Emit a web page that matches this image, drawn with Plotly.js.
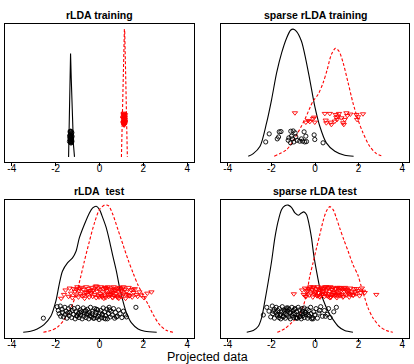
<!DOCTYPE html>
<html>
<head>
<meta charset="utf-8">
<script src="https://cdn.plot.ly/plotly-3.0.1.min.js"></script>
<style>
  html, body { margin: 0; padding: 0; background: #fff; }
  #chart { width: 414px; height: 364px; }
</style>
</head>
<body>
<div id="chart"></div>
<script>
// Panel titles and shared x ticks
const panelTitles = ["rLDA training", "sparse rLDA training", "rLDA\u00a0 test", "sparse rLDA test"];
const xTickVals = [-4, -2, 0, 2, 4];
const xTickLabels = ["-4", "-2", "0", "2", "4"];
const xAxisTitle = "Projected data";

// ---- rLDA training ----
const p1BlackCurveX = [-1.41, -1.385, -1.36, -1.335, -1.32, -1.29, -1.24, -1.19, -1.14];
const p1BlackCurveY = [0, 0.30, 0.60, 0.80, 0.81, 0.62, 0.33, 0.10, 0];
const p1RedCurveX = [1.00, 1.04, 1.08, 1.12, 1.135, 1.15, 1.19, 1.23, 1.27];
const p1RedCurveY = [0, 0.33, 0.67, 0.99, 1.0, 0.99, 0.67, 0.33, 0];
const p1BlackPtsX = [-1.31, -1.28, -1.35, -1.30, -1.26, -1.33, -1.29, -1.36, -1.27, -1.32, -1.30, -1.25, -1.34, -1.29, -1.31, -1.37, -1.28, -1.33, -1.30, -1.26, -1.32, -1.29, -1.35, -1.31, -1.27, -1.30, -1.33];
const p1BlackPtsY = [0.20, 0.18, 0.17, 0.15, 0.19, 0.13, 0.12, 0.16, 0.14, 0.11, 0.18, 0.16, 0.20, 0.13, 0.15, 0.12, 0.11, 0.19, 0.14, 0.12, 0.17, 0.16, 0.14, 0.12, 0.13, 0.20, 0.15];
const p1RedPtsX = [1.12, 1.10, 1.15, 1.13, 1.08, 1.14, 1.11, 1.16, 1.09, 1.13, 1.12, 1.10, 1.17, 1.14, 1.11, 1.13, 1.09, 1.15, 1.12, 1.10, 1.14, 1.12, 1.16, 1.11, 1.13, 1.08, 1.15, 1.12, 1.10, 1.14];
const p1RedPtsY = [0.34, 0.33, 0.32, 0.31, 0.30, 0.29, 0.28, 0.27, 0.26, 0.25, 0.33, 0.30, 0.28, 0.26, 0.32, 0.29, 0.27, 0.31, 0.25, 0.34, 0.30, 0.28, 0.33, 0.27, 0.26, 0.31, 0.29, 0.32, 0.30, 0.27];

// ---- sparse rLDA training ----
const p2BlackCurveX = [-3.06, -2.83, -2.52, -2.22, -1.99, -1.76, -1.53, -1.30, -1.12, -1.00, -0.85, -0.62, -0.42, -0.24, -0.01, 0.22, 0.52, 0.91, 1.36, 1.77];
const p2BlackCurveY = [0.005, 0.026, 0.083, 0.266, 0.449, 0.657, 0.814, 0.931, 0.991, 1.0, 0.983, 0.905, 0.762, 0.605, 0.396, 0.240, 0.110, 0.044, 0.013, 0.005];
const p2RedCurveX = [-1.87, -1.30, -0.92, -0.47, -0.09, 0.14, 0.37, 0.56, 0.75, 0.94, 1.10, 1.29, 1.52, 1.74, 1.97, 2.20, 2.51, 2.81, 3.12];
const p2RedCurveY = [0.005, 0.057, 0.149, 0.292, 0.436, 0.488, 0.579, 0.683, 0.801, 0.850, 0.827, 0.736, 0.579, 0.423, 0.292, 0.188, 0.083, 0.026, 0.005];
const p2BlackPtsX = [-2.10, -2.26, -1.67, -1.64, -1.56, -1.73, -1.11, -1.00, -0.91, -1.08, -1.23, -1.12, -1.03, -0.88, -0.82, -0.70, -0.57, -0.47, -0.39, -0.50, -0.42, -0.04, -0.01, 0.37, -1.20, -0.97, -0.62];
const p2BlackPtsY = [0.180, 0.117, 0.156, 0.196, 0.198, 0.141, 0.201, 0.203, 0.188, 0.162, 0.130, 0.110, 0.141, 0.156, 0.130, 0.123, 0.123, 0.117, 0.120, 0.196, 0.162, 0.172, 0.136, 0.110, 0.149, 0.117, 0.141];
const p2RedPtsX = [-0.92, -0.42, -0.31, -0.24, -0.09, -0.04, -0.01, 0.45, 0.49, 0.52, 0.68, 0.72, 0.75, 0.95, 0.98, 1.01, 1.06, 1.10, 1.29, 1.32, 1.36, 1.44, 1.48, 1.62, 1.90, 1.93, 1.97, 2.20, 0.91, 1.21];
const p2RedPtsY = [0.344, 0.271, 0.284, 0.276, 0.300, 0.310, 0.271, 0.339, 0.287, 0.266, 0.339, 0.271, 0.253, 0.331, 0.310, 0.292, 0.318, 0.339, 0.266, 0.253, 0.292, 0.344, 0.323, 0.334, 0.331, 0.292, 0.313, 0.336, 0.279, 0.305];

// ---- rLDA test ----
const p3BlackCurveX = [-3.48, -3.14, -2.84, -2.53, -2.22, -1.99, -1.84, -1.69, -1.46, -1.23, -1.07, -0.92, -0.69, -0.46, -0.31, -0.15, 0.0, 0.15, 0.31, 0.46, 0.61, 0.77, 0.92, 1.07, 1.23, 1.46, 1.76, 2.07, 2.61];
const p3BlackCurveY = [0.005, 0.013, 0.031, 0.065, 0.130, 0.248, 0.378, 0.483, 0.548, 0.587, 0.639, 0.743, 0.848, 0.939, 0.978, 0.991, 0.965, 0.900, 0.822, 0.717, 0.600, 0.483, 0.352, 0.248, 0.156, 0.078, 0.031, 0.013, 0.005];
const p3RedCurveX = [-2.56, -2.22, -1.92, -1.61, -1.30, -1.07, -0.87, -0.69, -0.46, -0.23, 0.0, 0.23, 0.41, 0.61, 0.84, 1.07, 1.30, 1.53, 1.76, 1.99, 2.22, 2.45, 2.76, 3.07, 3.37];
const p3RedCurveY = [0.005, 0.018, 0.044, 0.104, 0.196, 0.300, 0.430, 0.561, 0.717, 0.861, 0.965, 1.0, 0.995, 0.926, 0.809, 0.691, 0.574, 0.469, 0.373, 0.295, 0.222, 0.143, 0.060, 0.018, 0.005];
const p3BlackPtsX = [-2.56, -1.93, -1.88, -1.84, -1.79, -1.77, -1.71, -1.69, -1.64, -1.58, -1.57, -1.52, -1.49, -1.41, -1.38, -1.35, -1.31, -1.27, -1.24, -1.18, -1.16, -1.11, -1.07, -1.04, -0.99, -0.97, -0.93, -0.88, -0.86, -0.83, -0.79, -0.74, -0.72, -0.69, -0.63, -0.61, -0.58, -0.55, -0.49, -0.46, -0.44, -0.41, -0.36, -0.33, -0.31, -0.27, -0.22, -0.19, -0.17, -0.12, -0.09, -0.05, -0.02, 0.03, 0.06, 0.09, 0.13, 0.17, 0.21, 0.24, 0.29, 0.33, 0.36, 0.41, 0.44, 0.49, 0.53, 0.58, 0.64, 0.69, 0.73, 0.81, 0.87, 0.94, 1.02, 1.09, 1.18, 1.23, 1.66, -1.45, -1.02, -0.66, -0.25, 0.11, 0.46, 0.77, -0.52, -0.14, 0.27, -0.90];
const p3BlackPtsY = [0.115, 0.205, 0.175, 0.150, 0.210, 0.130, 0.185, 0.160, 0.125, 0.200, 0.145, 0.170, 0.115, 0.190, 0.135, 0.160, 0.205, 0.120, 0.175, 0.145, 0.190, 0.110, 0.165, 0.135, 0.200, 0.150, 0.120, 0.180, 0.140, 0.165, 0.110, 0.195, 0.130, 0.155, 0.175, 0.120, 0.145, 0.185, 0.110, 0.160, 0.135, 0.200, 0.125, 0.150, 0.170, 0.115, 0.190, 0.140, 0.160, 0.120, 0.180, 0.130, 0.105, 0.155, 0.175, 0.120, 0.145, 0.195, 0.115, 0.165, 0.135, 0.185, 0.110, 0.150, 0.200, 0.125, 0.170, 0.140, 0.190, 0.115, 0.160, 0.130, 0.180, 0.150, 0.120, 0.170, 0.140, 0.125, 0.200, 0.155, 0.130, 0.170, 0.115, 0.140, 0.180, 0.125, 0.150, 0.185, 0.110, 0.160];
const p3RedPtsX = [-1.75, -1.62, -1.55, -1.41, -1.36, -1.30, -1.24, -1.18, -1.12, -1.07, -1.01, -0.96, -0.93, -0.87, -0.82, -0.79, -0.74, -0.68, -0.65, -0.61, -0.55, -0.52, -0.47, -0.43, -0.38, -0.35, -0.31, -0.26, -0.22, -0.18, -0.15, -0.11, -0.07, -0.04, 0.01, 0.04, 0.07, 0.12, 0.15, 0.18, 0.22, 0.25, 0.28, 0.32, 0.35, 0.38, 0.42, 0.45, 0.48, 0.52, 0.55, 0.58, 0.62, 0.65, 0.69, 0.72, 0.76, 0.79, 0.83, 0.86, 0.90, 0.94, 0.98, 1.02, 1.06, 1.11, 1.15, 1.19, 1.24, 1.29, 1.33, 1.38, 1.44, 1.49, 1.55, 1.61, 1.68, 1.74, 1.82, 1.91, 2.03, 2.18, 2.37, -0.90, -0.58, -0.29, 0.09, 0.30, 0.50, 0.67, 0.81, 1.00, 1.21, -0.13, 0.40, 0.60, 0.93, -0.71, -0.40, 0.20, 0.75, 1.08, 1.35, -1.05, -0.02, 0.27, 0.56, 1.52, 0.88, -0.50];
const p3RedPtsY = [0.270, 0.300, 0.335, 0.285, 0.350, 0.310, 0.275, 0.345, 0.325, 0.295, 0.360, 0.280, 0.330, 0.305, 0.355, 0.290, 0.340, 0.270, 0.320, 0.360, 0.300, 0.345, 0.280, 0.330, 0.310, 0.355, 0.285, 0.340, 0.300, 0.365, 0.275, 0.325, 0.350, 0.290, 0.335, 0.305, 0.360, 0.280, 0.320, 0.345, 0.295, 0.355, 0.275, 0.330, 0.310, 0.360, 0.285, 0.340, 0.300, 0.325, 0.350, 0.280, 0.315, 0.360, 0.290, 0.335, 0.305, 0.345, 0.275, 0.320, 0.355, 0.295, 0.330, 0.285, 0.350, 0.310, 0.340, 0.270, 0.325, 0.300, 0.355, 0.290, 0.335, 0.280, 0.315, 0.345, 0.300, 0.285, 0.320, 0.295, 0.275, 0.310, 0.320, 0.345, 0.315, 0.330, 0.290, 0.350, 0.305, 0.340, 0.285, 0.325, 0.300, 0.365, 0.300, 0.275, 0.350, 0.295, 0.315, 0.270, 0.330, 0.360, 0.290, 0.340, 0.280, 0.350, 0.310, 0.340, 0.270, 0.325];

// ---- sparse rLDA test ----
const p4BlackCurveX = [-3.13, -2.83, -2.60, -2.45, -2.30, -2.14, -1.99, -1.84, -1.69, -1.53, -1.38, -1.23, -1.08, -0.92, -0.77, -0.62, -0.51, -0.39, -0.27, -0.16, -0.06, 0.07, 0.22, 0.37, 0.60, 0.83, 1.06, 1.36, 1.74];
const p4BlackCurveY = [0.005, 0.018, 0.052, 0.117, 0.248, 0.404, 0.561, 0.743, 0.874, 0.965, 0.995, 1.0, 0.983, 0.939, 0.921, 0.939, 0.947, 0.926, 0.848, 0.743, 0.613, 0.483, 0.352, 0.261, 0.170, 0.104, 0.052, 0.018, 0.005];
const p4RedCurveX = [-1.73, -1.38, -1.08, -0.77, -0.54, -0.36, -0.24, -0.09, 0.07, 0.22, 0.37, 0.52, 0.68, 0.83, 0.98, 1.13, 1.32, 1.52, 1.74, 1.97, 2.12, 2.28, 2.43, 2.66, 2.96, 3.27, 3.57];
const p4RedCurveY = [0.005, 0.034, 0.078, 0.130, 0.209, 0.326, 0.443, 0.548, 0.665, 0.769, 0.874, 0.952, 0.988, 0.965, 0.900, 0.822, 0.730, 0.639, 0.535, 0.451, 0.365, 0.274, 0.196, 0.117, 0.052, 0.018, 0.005];
const p4BlackPtsX = [-2.37, -2.21, -2.11, -2.03, -1.96, -1.94, -1.87, -1.86, -1.80, -1.78, -1.73, -1.71, -1.65, -1.64, -1.58, -1.57, -1.51, -1.50, -1.44, -1.43, -1.37, -1.36, -1.30, -1.29, -1.25, -1.20, -1.19, -1.13, -1.12, -1.06, -1.05, -0.99, -0.98, -0.92, -0.91, -0.85, -0.84, -0.78, -0.77, -0.71, -0.70, -0.64, -0.63, -0.57, -0.56, -0.50, -0.49, -0.43, -0.42, -0.36, -0.34, -0.28, -0.26, -0.20, -0.18, -0.11, -0.06, -0.01, 0.05, 0.11, 0.18, 0.26, 0.34, 0.43, 0.56, 0.69, 0.86, 0.98, -1.61, -1.32, -1.01, -0.81, -0.59, -0.31, -1.91, -1.46, -1.16, -0.94, -0.69, -0.45, -0.09, 0.21, -1.72, -1.24, -0.88, -0.53, 0.48, -1.40, -0.15, 0.62];
const p4BlackPtsY = [0.140, 0.200, 0.170, 0.125, 0.210, 0.150, 0.185, 0.115, 0.160, 0.200, 0.135, 0.175, 0.120, 0.190, 0.145, 0.110, 0.165, 0.205, 0.130, 0.180, 0.150, 0.115, 0.195, 0.140, 0.170, 0.125, 0.185, 0.110, 0.160, 0.200, 0.135, 0.175, 0.120, 0.150, 0.190, 0.115, 0.165, 0.140, 0.200, 0.125, 0.180, 0.150, 0.110, 0.170, 0.135, 0.195, 0.120, 0.160, 0.145, 0.185, 0.115, 0.175, 0.130, 0.200, 0.150, 0.120, 0.165, 0.140, 0.190, 0.115, 0.155, 0.205, 0.130, 0.175, 0.145, 0.120, 0.165, 0.200, 0.135, 0.180, 0.150, 0.115, 0.190, 0.140, 0.170, 0.125, 0.155, 0.185, 0.130, 0.160, 0.110, 0.175, 0.145, 0.195, 0.120, 0.150, 0.130, 0.170, 0.110, 0.190];
const p4RedPtsX = [-0.97, -0.59, -0.52, -0.46, -0.41, -0.37, -0.31, -0.27, -0.22, -0.19, -0.14, -0.10, -0.06, -0.02, 0.02, 0.05, 0.09, 0.13, 0.16, 0.19, 0.23, 0.26, 0.30, 0.33, 0.36, 0.40, 0.43, 0.46, 0.50, 0.53, 0.56, 0.60, 0.63, 0.66, 0.70, 0.73, 0.76, 0.80, 0.83, 0.86, 0.90, 0.93, 0.97, 1.00, 1.04, 1.07, 1.11, 1.14, 1.18, 1.22, 1.26, 1.30, 1.34, 1.38, 1.42, 1.47, 1.52, 1.57, 1.62, 1.68, 1.74, 1.80, 1.87, 1.95, 2.04, 2.15, 2.28, 2.81, -0.33, -0.08, 0.11, 0.28, 0.45, 0.61, 0.78, 0.95, 1.12, 1.28, 1.46, 1.65, 1.90, 2.10, -0.44, 0.00, 0.38, 0.68, 1.02, 1.33, 1.58, 1.84, 0.21, 0.52, 0.85, 1.20, -0.24, 0.15, 0.88, 1.40, 2.20, 0.35, 0.72, 1.55, -0.12, 0.60, 1.10, 1.76, 0.05, 0.96];
const p4RedPtsY = [0.305, 0.335, 0.300, 0.350, 0.285, 0.320, 0.345, 0.295, 0.360, 0.310, 0.335, 0.280, 0.355, 0.300, 0.325, 0.345, 0.290, 0.360, 0.315, 0.340, 0.280, 0.330, 0.355, 0.300, 0.320, 0.345, 0.285, 0.360, 0.310, 0.335, 0.290, 0.350, 0.305, 0.325, 0.360, 0.280, 0.340, 0.300, 0.355, 0.315, 0.290, 0.345, 0.325, 0.275, 0.355, 0.310, 0.335, 0.290, 0.350, 0.300, 0.340, 0.285, 0.325, 0.355, 0.295, 0.340, 0.310, 0.280, 0.350, 0.320, 0.295, 0.345, 0.305, 0.330, 0.290, 0.350, 0.315, 0.300, 0.330, 0.360, 0.290, 0.345, 0.305, 0.285, 0.340, 0.300, 0.355, 0.280, 0.325, 0.300, 0.345, 0.315, 0.285, 0.310, 0.330, 0.275, 0.290, 0.350, 0.305, 0.320, 0.285, 0.360, 0.300, 0.330, 0.350, 0.290, 0.310, 0.340, 0.325, 0.305, 0.280, 0.330, 0.340, 0.355, 0.300, 0.295, 0.320, 0.345];

const panels = [
  {bc: [p1BlackCurveX, p1BlackCurveY], rc: [p1RedCurveX, p1RedCurveY], bp: [p1BlackPtsX, p1BlackPtsY], rp: [p1RedPtsX, p1RedPtsY], shape: "linear"},
  {bc: [p2BlackCurveX, p2BlackCurveY], rc: [p2RedCurveX, p2RedCurveY], bp: [p2BlackPtsX, p2BlackPtsY], rp: [p2RedPtsX, p2RedPtsY], shape: "spline"},
  {bc: [p3BlackCurveX, p3BlackCurveY], rc: [p3RedCurveX, p3RedCurveY], bp: [p3BlackPtsX, p3BlackPtsY], rp: [p3RedPtsX, p3RedPtsY], shape: "spline"},
  {bc: [p4BlackCurveX, p4BlackCurveY], rc: [p4RedCurveX, p4RedCurveY], bp: [p4BlackPtsX, p4BlackPtsY], rp: [p4RedPtsX, p4RedPtsY], shape: "spline"}
];

// plot-box positions in pixels of a 414 x 364 canvas
const W = 414, H = 364;
const boxes = [
  {l: 5, r: 194, t: 24, b: 162},
  {l: 221, r: 409, t: 24, b: 162},
  {l: 5, r: 194, t: 200, b: 338},
  {l: 221, r: 409, t: 200, b: 338}
];

const FONT = "Liberation Sans, Arial, Helvetica, sans-serif";
const traces = [];
const layout = {
  width: W, height: H,
  margin: {l: 0, r: 0, t: 0, b: 0},
  paper_bgcolor: "#fff", plot_bgcolor: "#fff",
  showlegend: false,
  font: {family: FONT, color: "#000"},
  annotations: []
};

panels.forEach((p, i) => {
  const n = i + 1;
  const xa = n === 1 ? "x" : "x" + n;
  const ya = n === 1 ? "y" : "y" + n;
  const bx = boxes[i];
  traces.push({x: p.bc[0], y: p.bc[1], xaxis: xa, yaxis: ya, mode: "lines",
    line: {color: "#000", width: 1.1, shape: p.shape, smoothing: 0.8}, hoverinfo: "skip"});
  traces.push({x: p.rc[0], y: p.rc[1], xaxis: xa, yaxis: ya, mode: "lines",
    line: {color: "#ff0000", width: 1.1, dash: "3px,2px", shape: p.shape, smoothing: 0.8}, hoverinfo: "skip"});
  traces.push({x: p.bp[0], y: p.bp[1], xaxis: xa, yaxis: ya, mode: "markers",
    marker: {symbol: "circle-open", size: 4.2, color: "#000", line: {width: 0.9, color: "#000"}}, hoverinfo: "skip"});
  traces.push({x: p.rp[0], y: p.rp[1], xaxis: xa, yaxis: ya, mode: "markers",
    marker: {symbol: "triangle-down-open", size: 4.6, color: "#ff0000", line: {width: 0.9, color: "#ff0000"}}, hoverinfo: "skip"});

  layout["xaxis" + (n === 1 ? "" : n)] = {
    domain: [bx.l / W, bx.r / W], anchor: ya,
    range: [-4.31, 4.31], tickvals: xTickVals, ticktext: xTickLabels,
    ticks: "outside", ticklen: 3, tickwidth: 1, tickcolor: "#000",
    ticklabelstandoff: -6,
    showline: true, mirror: true, linecolor: "#000", linewidth: 1,
    showgrid: false, zeroline: false,
    tickfont: {family: FONT, size: 10, color: "#000"}
  };
  layout["yaxis" + (n === 1 ? "" : n)] = {
    domain: [1 - bx.b / H, 1 - bx.t / H], anchor: xa,
    range: [-0.04, 1.04],
    showline: true, mirror: true, linecolor: "#000", linewidth: 1,
    showgrid: false, zeroline: false, showticklabels: false, ticks: ""
  };
  layout.annotations.push({
    text: "<b>" + panelTitles[i] + "</b>", xref: "paper", yref: "paper",
    x: (bx.l + bx.r) / 2 / W, y: 1 - (bx.t - 9) / H,
    xanchor: "center", yanchor: "middle", showarrow: false,
    font: {family: FONT, size: 10.5, color: "#000"}
  });
});

layout.annotations.push({
  text: xAxisTitle, xref: "paper", yref: "paper",
  x: 207.5 / W, y: 1 - 357 / H, xanchor: "center", yanchor: "middle",
  showarrow: false, font: {family: FONT, size: 12.5, color: "#000"}
});

Plotly.newPlot("chart", traces, layout, {staticPlot: true, displayModeBar: false});
</script>
</body>
</html>
